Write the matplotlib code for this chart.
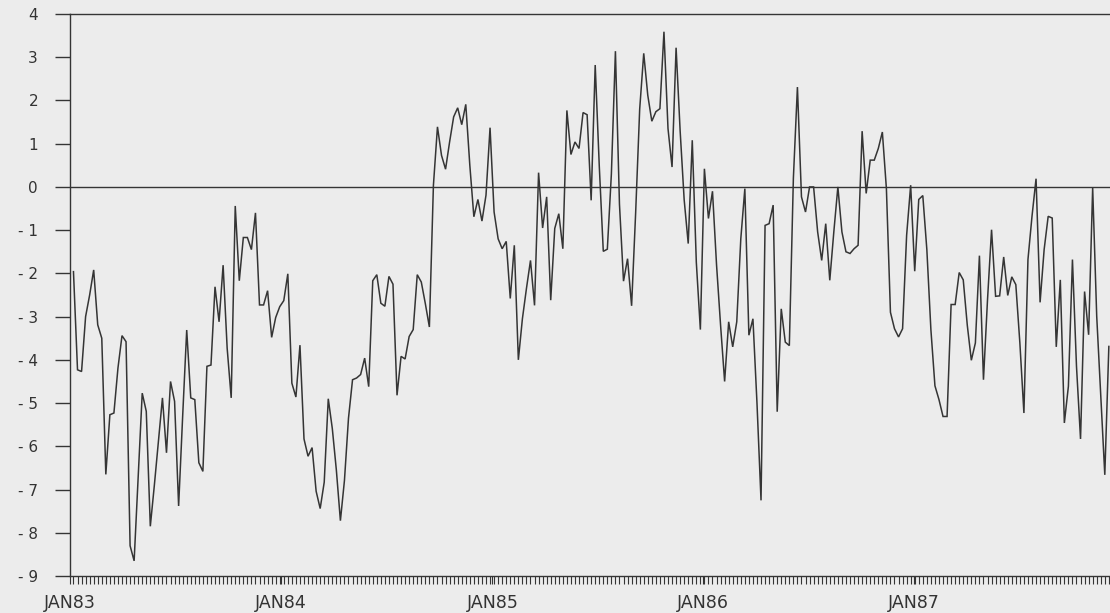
import matplotlib
matplotlib.use("Agg")
import matplotlib.pyplot as plt
import pandas as pd

# Weekly series, first observation in the first week of January 1983
start_week = "1983-01-07"
values = [
    -1.96, -4.23, -4.27, -3.00, -2.50, -1.92, -3.19, -3.50, -6.65, -5.27,
    -5.23, -4.19, -3.44, -3.58, -8.30, -8.65, -6.70, -4.77, -5.19, -7.85,
    -6.90, -5.90, -4.88, -6.15, -4.50, -4.96, -7.38, -5.30, -3.31, -4.88,
    -4.92, -6.38, -6.58, -4.15, -4.12, -2.31, -3.12, -1.81, -3.73, -4.88,
    -0.44, -2.17, -1.17, -1.17, -1.45, -0.60, -2.73, -2.73, -2.40, -3.48,
    -3.02, -2.77, -2.63, -2.01, -4.54, -4.86, -3.66, -5.83, -6.23, -6.03,
    -7.04, -7.44, -6.83, -4.90, -5.59, -6.55, -7.72, -6.79, -5.35, -4.46,
    -4.42, -4.34, -3.96, -4.62, -2.17, -2.03, -2.69, -2.76, -2.07, -2.25,
    -4.82, -3.92, -3.98, -3.46, -3.30, -2.03, -2.20, -2.70, -3.24, 0.04,
    1.39, 0.73, 0.41, 1.04, 1.62, 1.83, 1.44, 1.91, 0.50, -0.69,
    -0.29, -0.79, -0.19, 1.37, -0.58, -1.20, -1.43, -1.26, -2.58, -1.35,
    -4.00, -3.05, -2.35, -1.70, -2.74, 0.33, -0.95, -0.23, -2.62, -0.96,
    -0.62, -1.43, 1.77, 0.75, 1.04, 0.89, 1.72, 1.67, -0.31, 2.82,
    0.50, -1.49, -1.44, 0.30, 3.14, -0.40, -2.18, -1.66, -2.75, -0.60,
    1.80, 3.09, 2.12, 1.52, 1.74, 1.81, 3.59, 1.35, 0.46, 3.22,
    1.30, -0.30, -1.31, 1.08, -1.74, -3.30, 0.42, -0.73, -0.10, -1.80,
    -3.20, -4.50, -3.12, -3.70, -3.12, -1.20, -0.04, -3.43, -3.05, -5.00,
    -7.25, -0.89, -0.85, -0.42, -5.20, -2.82, -3.59, -3.67, 0.20, 2.31,
    -0.23, -0.58, 0.00, 0.00, -1.04, -1.70, -0.85, -2.16, -1.04, 0.00,
    -1.04, -1.50, -1.54, -1.43, -1.35, 1.29, -0.15, 0.62, 0.62, 0.89,
    1.27, -0.04, -2.90, -3.28, -3.47, -3.28, -1.12, 0.04, -1.95, -0.29,
    -0.20, -1.45, -3.30, -4.60, -4.92, -5.31, -5.31, -2.72, -2.72, -1.98,
    -2.15, -3.20, -4.01, -3.61, -1.59, -4.46, -2.61, -0.99, -2.53, -2.52,
    -1.62, -2.51, -2.08, -2.26, -3.61, -5.23, -1.68, -0.68, 0.19, -2.67,
    -1.45, -0.68, -0.72, -3.70, -2.15, -5.46, -4.61, -1.68, -4.15, -5.83,
    -2.42, -3.42, -0.02, -2.99, -4.85, -6.66, -3.69,
]

year_ticks = ["1983-01-01", "1984-01-01", "1985-01-01", "1986-01-01", "1987-01-01"]
year_labels = ["JAN83", "JAN84", "JAN85", "JAN86", "JAN87"]
y_ticks = [-9, -8, -7, -6, -5, -4, -3, -2, -1, 0, 1, 2, 3, 4]
y_labels = ["- 9", "- 8", "- 7", "- 6", "- 5", "- 4", "- 3", "- 2", "- 1",
            "0", "1", "2", "3", "4"]

dates = pd.date_range(start_week, periods=len(values), freq="7D")

bg = "#ececec"
ink = "#353535"
text_ink = "#333333"

W, H = 1110, 613
fig = plt.figure(figsize=(W / 100, H / 100), dpi=100, facecolor=bg)
ax = fig.add_axes([70 / W, (H - 576) / H, 1040 / W, (576 - 14) / H])
ax.set_facecolor(bg)

ax.plot(dates, values, color=ink, lw=1.1, solid_joinstyle="miter")
ax.axhline(0, color=ink, lw=1.0)

ax.set_ylim(-9, 4)
ax.set_xlim(pd.Timestamp("1983-01-01"), pd.Timestamp("1987-12-06"))

for side in ("left", "bottom", "top"):
    ax.spines[side].set_color(ink)
    ax.spines[side].set_linewidth(1.0)
ax.spines["right"].set_visible(False)

ax.set_yticks(y_ticks)
ax.set_yticklabels(y_labels, fontsize=11, color=text_ink)
ax.tick_params(axis="y", direction="out", length=11, width=1.0, color=ink, pad=12)

ax.set_xticks(pd.to_datetime(year_ticks))
ax.set_xticklabels(year_labels, fontsize=12.5, color=text_ink)
ax.set_xticks(dates, minor=True)
ax.tick_params(axis="x", which="major", direction="out", length=6, width=0.8,
               color=ink, pad=7)
ax.tick_params(axis="x", which="minor", direction="out", length=6, width=0.8,
               color=ink)

fig.savefig("out.png", dpi=100, facecolor=bg)
